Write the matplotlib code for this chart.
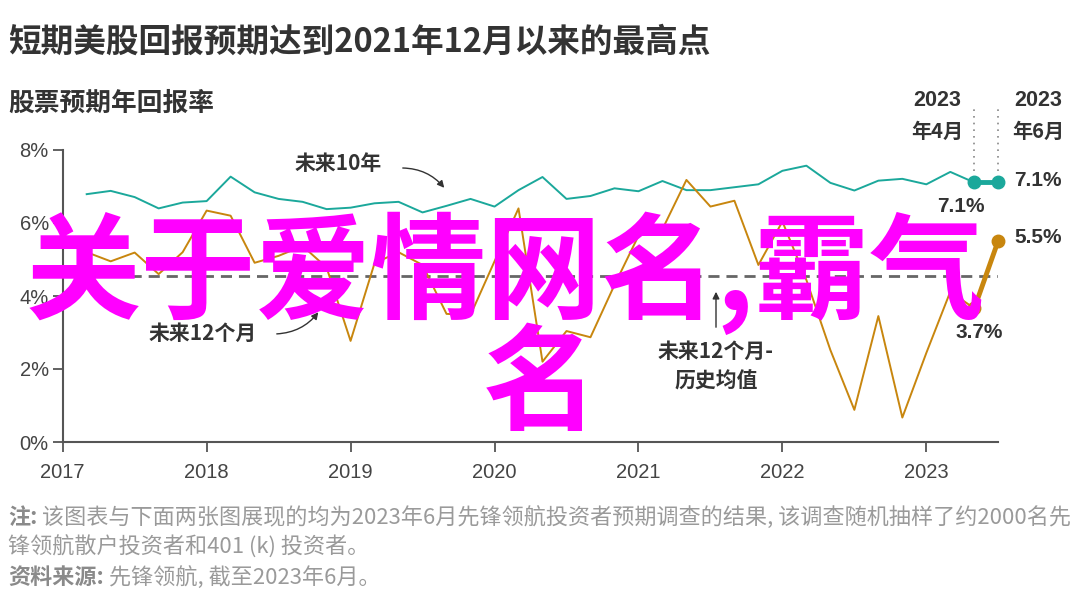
import numpy as np
import matplotlib
matplotlib.use("Agg")
import matplotlib.pyplot as plt

plt.rcParams['font.family'] = ['Noto Sans CJK SC', 'DejaVu Sans']

# bimonthly survey dates (year-month)
dates = ["2017-02", "2017-04", "2017-06", "2017-08", "2017-10", "2017-12",
         "2018-02", "2018-04", "2018-06", "2018-08", "2018-10", "2018-12",
         "2019-02", "2019-04", "2019-06", "2019-08", "2019-10", "2019-12",
         "2020-02", "2020-04", "2020-06", "2020-08", "2020-10", "2020-12",
         "2021-02", "2021-04", "2021-06", "2021-08", "2021-10", "2021-12",
         "2022-02", "2022-04", "2022-06", "2022-08", "2022-10", "2022-12",
         "2023-02", "2023-04", "2023-06"]

# expected annual return, next 10 years (%)
ten_year = [6.79, 6.88, 6.71, 6.40, 6.56, 6.60,
            7.27, 6.84, 6.66, 6.58, 6.38, 6.42,
            6.54, 6.58, 6.29, 6.47, 6.66, 6.45,
            6.90, 7.26, 6.66, 6.74, 6.95, 6.87,
            7.15, 6.90, 6.90, 6.98, 7.06, 7.43,
            7.57, 7.10, 6.89, 7.16, 7.21, 7.06,
            7.40, 7.11, 7.11]

# expected return, next 12 months (%)
twelve_month = [5.20, 4.95, 5.19, 4.60, 5.20, 6.34,
                6.20, 4.91, 5.10, 5.37, 4.78, 2.77,
                4.90, 5.20, 4.85, 3.51, 3.48, 4.95,
                6.40, 2.20, 3.04, 2.87, 4.30, 5.65,
                5.83, 7.18, 6.45, 6.61, 4.85, 6.04,
                4.44, 2.52, 0.88, 3.45, 0.67, 2.44,
                4.12, 3.66, 5.52]

hist_avg = 4.55
year_ticks = [2017, 2018, 2019, 2020, 2021, 2022, 2023]
pct_ticks = [0, 2, 4, 6, 8]

teal = '#1ba89b'
gold = '#c8860e'
dark = '#333333'
axis_grey = '#555555'

x = np.array([int(d[:4]) + int(d[5:]) / 12 for d in dates])
ten = np.array(ten_year)
twelve = np.array(twelve_month)

W, H = 1080, 609
fig = plt.figure(figsize=(W / 100, H / 100), dpi=100)
ax = fig.add_axes([62.7 / W, 1 - 442 / H, (998.3 - 62.7) / W, (442 - 150) / H])


def fp(px, py):
    # figure pixel coords measured from the top-left corner
    return (px, H - py)


# history average
ax.plot([2017.22, x[-1]], [hist_avg, hist_avg], color='#666666', lw=2,
        ls=(0, (4, 2.5)), zorder=2)

# thin series up to Apr 2023
ax.plot(x[:-1], ten[:-1], color=teal, lw=1.4, zorder=3)
ax.plot(x[:-1], twelve[:-1], color=gold, lw=1.4, zorder=3)
# last survey highlighted
ax.plot(x[-2:], ten[-2:], color=teal, lw=3.5, marker='o', ms=9, zorder=4,
        clip_on=False)
ax.plot(x[-2:], twelve[-2:], color=gold, lw=3.5, marker='o', ms=9, zorder=4,
        clip_on=False)

# dotted guides up to the month labels
for xi in x[-2:]:
    ax.plot([xi, xi], [7.42, 9.15], color='#888888', lw=1.2, ls=(0, (1, 3)),
            clip_on=False, zorder=1)

ax.set_xlim(2017, x[-1])
ax.set_ylim(0, 8)
ax.set_xticks(year_ticks)
ax.set_xticklabels([str(y) for y in year_ticks])
ax.set_yticks(pct_ticks)
ax.set_yticklabels([f'{p}%' for p in pct_ticks])
for s in ['top', 'right']:
    ax.spines[s].set_visible(False)
for s in ['left', 'bottom']:
    ax.spines[s].set_color(axis_grey)
    ax.spines[s].set_linewidth(1.5)
ax.tick_params(axis='both', colors=axis_grey, length=7, width=1.3,
               labelsize=14.5, labelcolor='#444444')
ax.tick_params(axis='x', pad=8)
ax.tick_params(axis='y', pad=3)
for lab in ax.get_xticklabels() + ax.get_yticklabels():
    lab.set_family('Liberation Sans')

# titles
fig.text(8 / W, 1 - 42 / H, '短期美股回报预期达到2021年12月以来的最高点',
         fontsize=23.5, weight='bold', color=dark, va='center', ha='left')
fig.text(8 / W, 1 - 103 / H, '股票预期年回报率', fontsize=18.5, weight='bold',
         color=dark, va='center', ha='left')

# series annotations
ann_font = dict(fontsize=15, weight='bold', color=dark, ha='center',
                va='center')
fig.text(338 / W, 1 - 163 / H, '未来10年', **ann_font)
ax.annotate('', xy=fp(446, 190), xycoords='figure pixels',
            xytext=fp(400, 168), textcoords='figure pixels',
            arrowprops=dict(arrowstyle='-|>', color=dark, lw=1,
                            connectionstyle='arc3,rad=-0.25',
                            mutation_scale=10))
fig.text(203 / W, 1 - 333 / H, '未来12个月', **ann_font)
ax.annotate('', xy=fp(320, 310), xycoords='figure pixels',
            xytext=fp(274, 334), textcoords='figure pixels',
            arrowprops=dict(arrowstyle='-|>', color=dark, lw=1,
                            connectionstyle='arc3,rad=0.25',
                            mutation_scale=10))
fig.text(716 / W, 1 - 351 / H, '未来12个月-', **ann_font)
fig.text(716 / W, 1 - 381 / H, '历史均值', **ann_font)
ax.annotate('', xy=fp(716, 289), xycoords='figure pixels',
            xytext=fp(716, 330), textcoords='figure pixels',
            arrowprops=dict(arrowstyle='-|>', color=dark, lw=1,
                            mutation_scale=10))

# end-point labels
num_font = dict(fontsize=15, weight='bold', color=dark, ha='center',
                va='center', family='Liberation Sans')
fig.text(961 / W, 1 - 206 / H, f'{ten[-2]:.1f}%', **num_font)
fig.text(1038 / W, 1 - 181 / H, f'{ten[-1]:.1f}%', **num_font)
fig.text(1038 / W, 1 - 237 / H, f'{twelve[-1]:.1f}%', **num_font)
fig.text(979 / W, 1 - 333 / H, f'{twelve[-2]:.1f}%', **num_font)

for cx, month in [(937, '年4月'), (1038, '年6月')]:
    fig.text(cx / W, 1 - 101 / H, '2023', fontsize=15.5, weight='bold',
             color=dark, ha='center', va='center', family='Liberation Sans')
    fig.text(cx / W, 1 - 131 / H, month, fontsize=14.5, weight='bold',
             color=dark, ha='center', va='center')

# notes
note_grey = '#9a9a9a'
note_size = 15.9
renderer = fig.canvas.get_renderer()


def note_line(py, head, body):
    px = 8
    if head:
        t = fig.text(px / W, 1 - py / H, head, fontsize=note_size,
                     weight='bold', color='#8a8a8a', va='center', ha='left')
        px = t.get_window_extent(renderer).x1 + 5
    fig.text(px / W, 1 - py / H, body, fontsize=note_size, color=note_grey,
             va='center', ha='left')


note_line(517, '注:', '该图表与下面两张图展现的均为2023年6月先锋领航投资者预期调查的结果, 该调查随机抽样了约2000名先')
note_line(547, None, '锋领航散户投资者和401 (k) 投资者。')
note_line(577, '资料来源:', '先锋领航, 截至2023年6月。')

# big magenta overlay text
fig.text(505 / W, 1 - 310 / H, '关于爱情网名,霸气', fontsize=83,
         color='#ff00ff', weight='bold', ha='center', va='baseline', zorder=10)
fig.text(540 / W, 1 - 421 / H, '名', fontsize=83,
         color='#ff00ff', weight='bold', ha='center', va='baseline', zorder=10)

fig.savefig('out.png', dpi=100, facecolor='white')
